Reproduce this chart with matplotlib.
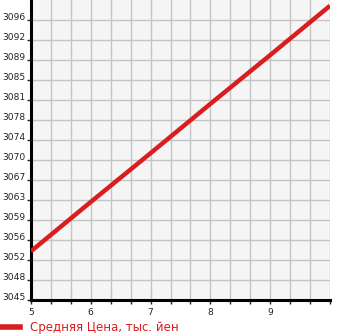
import numpy as np
import matplotlib.pyplot as plt
import matplotlib.transforms as mtransforms

# values
years = [5, 6, 7, 8, 9, 10]
avg_price = [3054.2, 3063.2, 3072.1, 3081.1, 3090.0, 3099.0]
y_ticks = [3045.3 + k * 3.65 for k in range(15)]
x_labels = [5, 6, 7, 8, 9]
legend_label = 'Средняя Цена, тыс. йен'

fig = plt.figure(figsize=(3.45, 3.35), dpi=100)
ax = fig.add_axes([31 / 345, 35 / 335, 299 / 345, 300 / 335])
ax.set_facecolor('#f5f5f5')

ax.plot(years, avg_price, color='#d81e1e', lw=3.2, solid_capstyle='butt', zorder=3)

ax.set_xlim(5, 10)
ax.set_ylim(3045.3, 3045.3 + 15 * 3.65)

# gridlines every third of a unit, labels only on whole numbers
xt = np.arange(5, 10.001, 1 / 3)
ax.set_xticks(xt)
ax.set_xticklabels([str(int(round(v))) if abs(v - round(v)) < 1e-6 and round(v) in x_labels else '' for v in xt])
ax.set_yticks(y_ticks)
ax.set_yticklabels([str(int(v)) for v in y_ticks])

ax.grid(True, color='#c4c4c4', lw=1)
ax.set_axisbelow(True)
for s in ['top', 'right']:
    ax.spines[s].set_visible(False)
ax.spines['left'].set_linewidth(2.2)
ax.spines['bottom'].set_linewidth(2.2)
ax.tick_params(axis='both', length=3, width=1, labelsize=6.6, pad=1, colors='#222222')
ax.tick_params(axis='x', pad=3)

offset = mtransforms.ScaledTranslation(0, 2.5 / 72, fig.dpi_scale_trans)
for lab in ax.get_yticklabels():
    lab.set_transform(lab.get_transform() + offset)

# legend at bottom
fig.lines.append(plt.Line2D([2 / 345, 20 / 345], [8 / 335, 8 / 335], transform=fig.transFigure,
                            color='#d81e1e', lw=4))
fig.text(30 / 345, 8 / 335, legend_label, color='#d81e1e', fontsize=8.5, va='center', ha='left')

fig.savefig('out.png', dpi=100)
